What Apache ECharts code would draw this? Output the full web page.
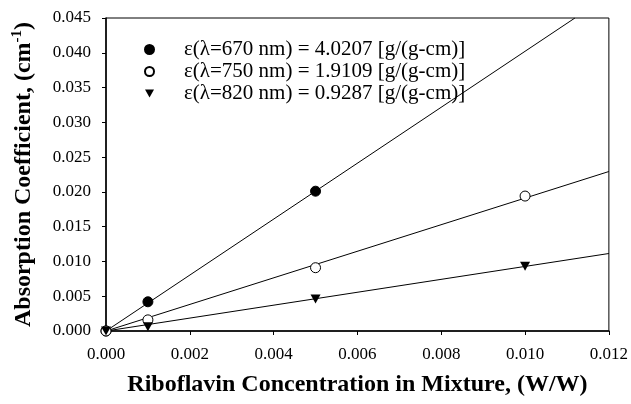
<!DOCTYPE html>
<html><head><meta charset="utf-8">
<script src="https://cdn.jsdelivr.net/npm/echarts@6/dist/echarts.min.js"></script>
<style>html,body{margin:0;padding:0;background:#fff}#c{width:631px;height:404px}</style>
</head><body><div id="c"></div>
<script>
// Data
var seriesNames = ['ε(λ=670 nm) = 4.0207 [g/(g-cm)]', 'ε(λ=750 nm) = 1.9109 [g/(g-cm)]', 'ε(λ=820 nm) = 0.9287 [g/(g-cm)]'];
var x670 = [0, 0.001, 0.005];
var y670 = [0, 0.0042, 0.0201];
var x750 = [0, 0.001, 0.005, 0.010];
var y750 = [0, 0.0016, 0.0091, 0.0194];
var x820 = [0, 0.001, 0.005, 0.010];
var y820 = [0, 0.0006, 0.0046, 0.0093];
// fitted line endpoints
var fit670 = [[0, 0], [0.01119, 0.045]];
var fit750 = [[0, 0], [0.012, 0.02293]];
var fit820 = [[0, 0], [0.012, 0.01114]];
var xTicks = [0, 0.012, 0.002];
var yTicks = [0, 0.045, 0.005];

function zip(a, b) { return a.map(function (v, i) { return [v, b[i]]; }); }
var FONT = '"Liberation Serif", "Times New Roman", serif';
var triPath = 'path://M0,0 L10,0 L5,9 Z';

var chart = echarts.init(document.getElementById('c'));
function fitSeries(d) {
  return { type: 'line', data: d, symbol: 'none', silent: true, z: 1,
    lineStyle: { color: '#000', width: 1 }, legendHoverLink: false };
}
chart.setOption({
  animation: false,
  backgroundColor: '#fff',
  grid: { left: 106, right: 22, top: 18, bottom: 73, show: true, borderColor: '#000', borderWidth: 1 },
  legend: {
    orient: 'vertical', left: 139, top: 34, itemGap: 1, itemWidth: 9, itemHeight: 9,
    textStyle: { fontFamily: FONT, fontSize: 21, color: '#000', padding: [0, 0, 0, 25] },
    data: [
      { name: seriesNames[0], icon: 'circle' },
      { name: seriesNames[1], icon: 'circle' },
      { name: seriesNames[2], icon: triPath }
    ]
  },
  xAxis: {
    type: 'value', min: xTicks[0], max: xTicks[1], interval: xTicks[2],
    name: 'Riboflavin Concentration in Mixture, (W/W)', nameLocation: 'middle', nameGap: 42,
    nameTextStyle: { fontFamily: FONT, fontSize: 24, fontWeight: 'bold', color: '#000' },
    axisLine: { lineStyle: { color: '#000', width: 1.5 } },
    axisTick: { show: true, length: 4, inside: false, lineStyle: { color: '#000' } },
    splitLine: { show: false },
    axisLabel: { fontFamily: FONT, fontSize: 17, color: '#000', margin: 15,
      formatter: function (v) { return v.toFixed(3); } }
  },
  yAxis: {
    type: 'value', min: yTicks[0], max: yTicks[1], interval: yTicks[2],
    name: '{n|Absorption Coefficient, (cm}{s|-1}{n|)}', nameLocation: 'middle', nameGap: 69,
    nameTextStyle: { fontFamily: FONT, fontSize: 24, fontWeight: 'bold', color: '#000',
      rich: {
        n: { fontFamily: FONT, fontSize: 24, fontWeight: 'bold', color: '#000' },
        s: { fontFamily: FONT, fontSize: 15, fontWeight: 'bold', color: '#000', verticalAlign: 'top', padding: [0, 0, 12, 0] }
      } },
    axisLine: { show: true, lineStyle: { color: '#000', width: 1.5 } },
    axisTick: { show: true, length: 4, inside: false, lineStyle: { color: '#000' } },
    splitLine: { show: false },
    axisLabel: { fontFamily: FONT, fontSize: 17, color: '#000', margin: 15,
      formatter: function (v) { return v.toFixed(3); } }
  },
  series: [
    fitSeries(fit670), fitSeries(fit750), fitSeries(fit820),
    { name: seriesNames[0], type: 'scatter', data: zip(x670, y670), symbol: 'circle', symbolSize: 10, z: 3,
      itemStyle: { color: '#000', borderColor: '#000', borderWidth: 1, opacity: 1 } },
    { name: seriesNames[1], type: 'scatter', data: zip(x750, y750), symbol: 'circle', symbolSize: 10, z: 3,
      itemStyle: { color: '#fff', borderColor: '#000', borderWidth: 1, opacity: 1 } },
    { name: seriesNames[2], type: 'scatter', data: zip(x820, y820), symbol: triPath, symbolSize: [10, 9], z: 3,
      itemStyle: { color: '#000', borderColor: '#000', borderWidth: 0, opacity: 1 } }
  ]
});
</script></body></html>
